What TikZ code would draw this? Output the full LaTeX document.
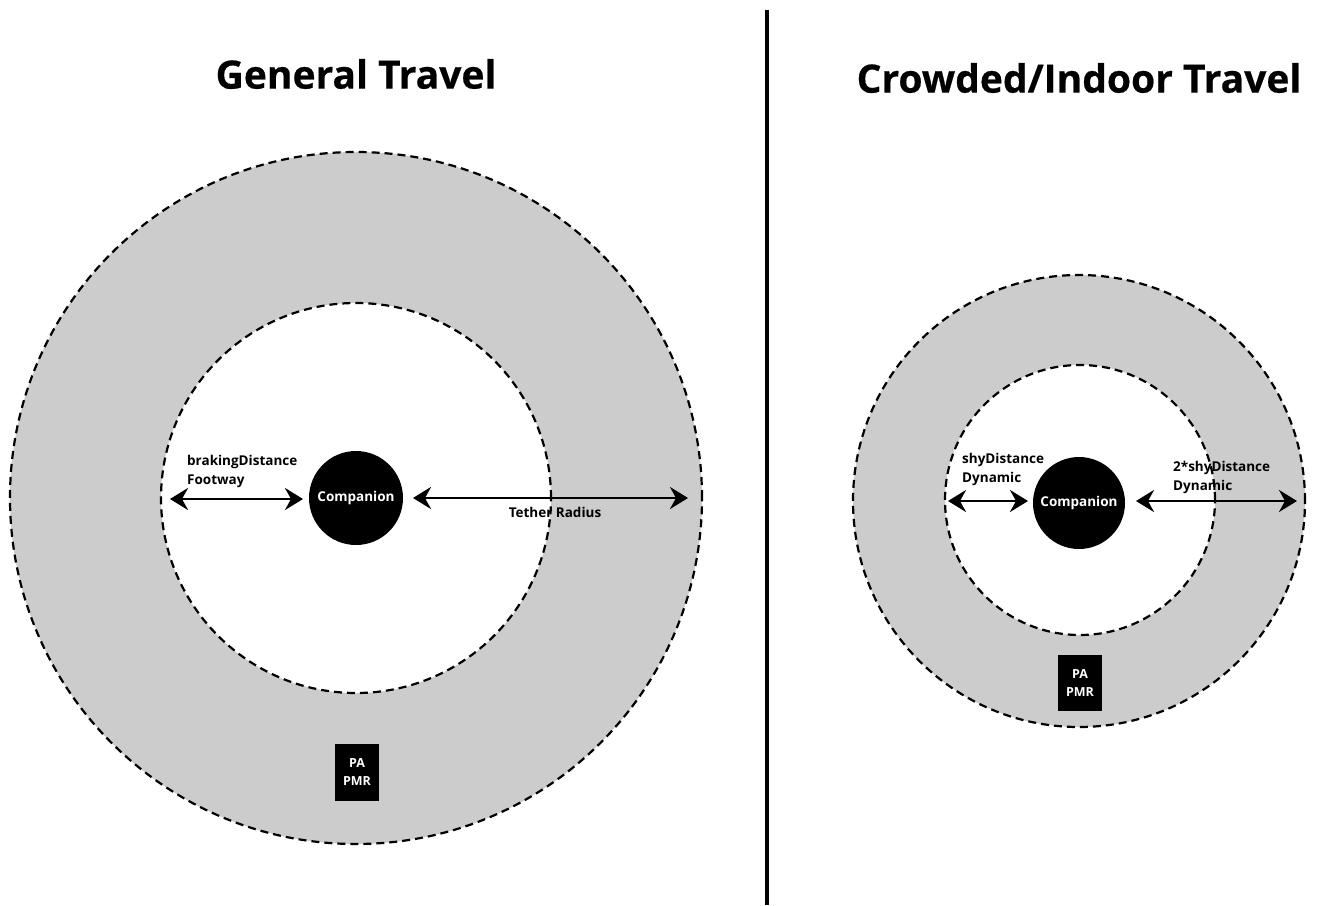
\documentclass[tikz,border=0pt]{standalone}
\usepackage{fontspec}
\setmainfont{Open Sans}
\newfontfamily\headfont{Open Sans}[FakeBold=0.5]
\usetikzlibrary{arrows.meta}
\definecolor{zonegray}{HTML}{CCCCCC}
\tikzset{
  zone/.style={circle, draw=black, line width=2.2pt, dash pattern=on 8pt off 5pt,
    fill=#1, inner sep=0pt},
  companion/.style={circle, fill=black, text=white, inner sep=0pt, minimum size=94pt,
    font=\bfseries\fontsize{13.5}{16}\selectfont},
  badge/.style={fill=black, text=white, inner sep=0pt, minimum width=44pt, minimum height=57pt,
    align=center, font=\bfseries\fontsize{12.5}{18}\selectfont},
  title/.style={font=\headfont\bfseries\fontsize{39}{45}\selectfont},
  lbl/.style={font=\bfseries\fontsize{13.5}{19}\selectfont, align=left, inner sep=0pt},
  tip/.tip={Stealth[length=18pt,width=22pt,inset=6pt]},
  dim/.style={line width=2.6pt, tip-tip},
}
\begin{document}
\begin{tikzpicture}[x=1pt,y=-1pt]
\useasboundingbox (0,0) rectangle (1320,905);

% divider between the two modes
\coordinate (divtop) at (767,10);
\coordinate (divbot) at (767,905);
\draw[line width=3.5pt] (divtop) -- (divbot);

% ---- general travel ----
\node[title] (t1) at (356,74) {General Travel};
\node[zone=zonegray, minimum size=692pt] (outerL) at (356,498) {};
\node[zone=white, minimum size=390pt] (innerL) at (356,498) {};
\node[companion] (compL) at (356,498) {Companion};
\node[badge] (badgeL) at (357,772) {PA\\PMR};

\coordinate (bL1) at (170,499);
\coordinate (bL2) at (303,499);
\draw[dim] (bL1) -- (bL2);
\node[lbl, anchor=south west] (brk) at (187,488) {brakingDistance\\Footway};

\coordinate (tL1) at (413,498);
\coordinate (tL2) at (688,498);
\draw[dim] (tL1) -- (tL2);
\node[lbl, anchor=center] (teth) at (555,512) {Tether Radius};

% ---- crowded / indoor travel ----
\node[title] (t2) at (1079,78) {Crowded/Indoor Travel};
\node[zone=zonegray, minimum size=452pt] (outerR) at (1079,501) {};
\node[zone=white, minimum size=270pt] (innerR) at (1080,500) {};
\node[companion, minimum size=92pt] (compR) at (1079,503) {Companion};
\node[badge, minimum height=56pt] (badgeR) at (1080,683) {PA\\PMR};

\coordinate (sR1) at (948,501);
\coordinate (sR2) at (1028,501);
\draw[dim] (sR1) -- (sR2);
\node[lbl, anchor=south west] (shy) at (962,486) {shyDistance\\Dynamic};

\coordinate (dR1) at (1136,501);
\coordinate (dR2) at (1297,501);
\draw[dim] (dR1) -- (dR2);
\node[lbl, anchor=south west] (dshy) at (1173,494) {2*shyDistance\\Dynamic};
\end{tikzpicture}
\end{document}
